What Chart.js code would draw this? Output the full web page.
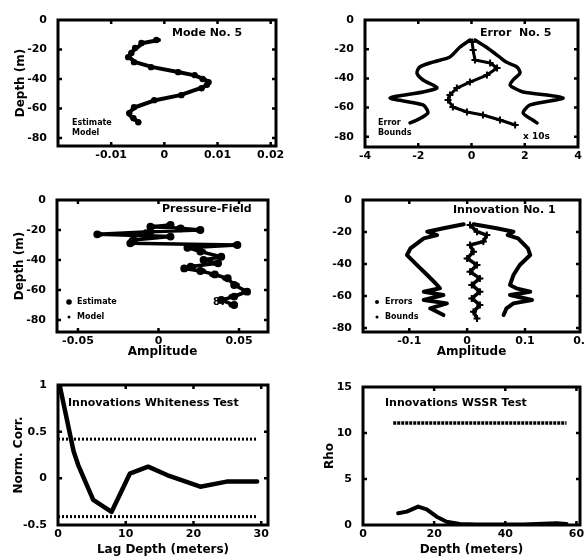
<!DOCTYPE html>
<html>
<head>
<meta charset="utf-8">
<script src="https://cdn.jsdelivr.net/npm/chart.js@4.4.1/dist/chart.umd.min.js"></script>
<style>
    html, body { margin: 0; padding: 0; background: #fff; width: 585px; height: 558px; overflow: hidden; position: relative; }
    canvas { position: absolute; }
</style>
</head>
<body>
<canvas id="modeChart"></canvas>
<canvas id="errorChart"></canvas>
<canvas id="pressureChart"></canvas>
<canvas id="innovChart"></canvas>
<canvas id="whiteChart"></canvas>
<canvas id="wssrChart"></canvas>
<script>
// Data - START
// Mode No. 5 (x = amplitude, y = depth m)
const modeDepth = [-13.6, -15.6, -19, -22.4, -25.2, -28.6, -32, -35.4, -37.4, -40, -42.2, -44, -46.3, -51, -54.4, -59.2, -63.3, -66.7, -69.4];
const modeEstimate = [-0.0015, -0.0043, -0.0055, -0.0062, -0.0068, -0.0057, -0.0025, 0.0026, 0.0057, 0.0072, 0.0083, 0.0080, 0.0070, 0.0032, -0.0019, -0.0057, -0.0066, -0.0058, -0.0049];
const modeModel = [-0.0010, -0.0040, -0.0052, -0.0064, -0.0066, -0.0055, -0.0022, 0.0028, 0.0055, 0.0074, 0.0085, 0.0082, 0.0068, 0.0030, -0.0017, -0.0055, -0.0068, -0.0060, -0.0047];
const modeXTicks = [-0.01, 0, 0.01, 0.02];

// Error No. 5
const errBoundDepth = [-13.7, -18.5, -25.3, -28.8, -32.2, -36.3, -41.1, -44.5, -46.6, -49.3, -53.4, -58.2, -63.7, -68.5, -70.5];
const errBoundLow = [-0.06, -0.43, -0.81, -1.45, -1.94, -2.05, -1.82, -1.45, -1.3, -1.82, -3.06, -1.82, -1.64, -2.05, -2.31];
const errBoundHigh = [0.13, 0.55, 1.05, 1.3, 1.71, 1.82, 1.56, 1.45, 1.6, 1.94, 3.44, 2.2, 1.94, 2.3, 2.46];
const errDepth = [-15, -20.5, -27.4, -29.5, -32.9, -37.7, -42.5, -46.6, -51.4, -54.8, -59.6, -63, -65.1, -68.5, -71.9];
const errValue = [0.02, 0.06, 0.13, 0.7, 0.96, 0.58, -0.06, -0.55, -0.81, -0.88, -0.7, -0.17, 0.43, 1.07, 1.64];
const errXTicks = [-4, -2, 0, 2, 4];

// Pressure-Field
const presDepth = [-16.7, -17.8, -18.9, -20, -21.1, -22.9, -23.8, -24.4, -26.7, -28.9, -30, -31.8, -34.4, -37.8, -40, -42.2, -44.4, -45.6, -47.3, -49.6, -52.2, -56.7, -61.1, -64.4, -66.7, -70];
const presEstimate = [0.0075, -0.005, 0.0138, 0.026, -0.005, -0.038, -0.007, 0.0075, -0.0154, -0.0175, 0.049, 0.018, 0.026, 0.039, 0.028, 0.037, 0.02, 0.016, 0.026, 0.035, 0.043, 0.047, 0.055, 0.047, 0.039, 0.047];
const presModel = [0.006, -0.003, 0.012, 0.024, -0.008, -0.036, -0.009, 0.006, -0.017, -0.016, 0.047, 0.02, 0.028, 0.037, 0.03, 0.035, 0.022, 0.018, 0.028, 0.033, 0.041, 0.049, 0.053, 0.045, 0.041, 0.045];
const presXTicks = [-0.05, 0, 0.05];

// Innovation No. 1
const innovBoundDepth = [-15.2, -17.7, -19.8, -21.9, -24, -30.2, -34.4, -40.6, -46.9, -53.1, -55.2, -57.3, -59.4, -62.5, -64.6, -67.7, -71.9];
const innovBoundLow = [-0.006, -0.041, -0.069, -0.052, -0.075, -0.098, -0.104, -0.087, -0.069, -0.052, -0.047, -0.075, -0.041, -0.075, -0.035, -0.064, -0.041];
const innovBoundHigh = [0.011, 0.051, 0.08, 0.07, 0.088, 0.105, 0.109, 0.091, 0.08, 0.074, 0.085, 0.109, 0.074, 0.112, 0.08, 0.068, 0.063];
const innovErrDepth = [-15.6, -19.8, -21.9, -26, -28.1, -32.3, -36.5, -40.6, -44.8, -49, -53.1, -57.3, -61.5, -65.6, -69.8, -74];
const innovErr = [0.005, 0.017, 0.034, 0.028, 0.005, 0.011, 0, 0.017, 0.005, 0.022, 0.008, 0.022, 0.008, 0.022, 0.011, 0.017];
const innovXTicks = [-0.1, 0, 0.1, 0.2];

const depthTicks = [0, -20, -40, -60, -80];

// Innovations Whiteness Test
const lagDepth = [0.3, 2.3, 3, 5.2, 7.9, 10.6, 13.3, 16.1, 21, 24.9, 29.4];
const normCorr = [0.98, 0.29, 0.14, -0.23, -0.36, 0.05, 0.125, 0.035, -0.09, -0.035, -0.035];
const corrBoundLag = [0, 29.4];
const corrUpper = [0.42, 0.42];
const corrLower = [-0.41, -0.41];
const lagTicks = [0, 10, 20, 30];
const corrTicks = [-0.5, 0, 0.5, 1];

// Innovations WSSR Test
const wssrDepth = [9.9, 12.3, 15.5, 17.9, 20.7, 23.5, 27.2, 31.9, 45, 54.4, 57.2];
const wssrRho = [1.27, 1.45, 2.0, 1.7, 0.9, 0.36, 0.1, 0.05, 0.05, 0.2, 0.1];
const threshDepth = [8.5, 57.2];
const threshRho = [11.1, 11.1];
const wssrXTicks = [0, 20, 40, 60];
const rhoTicks = [0, 5, 10, 15];
// Data - END

const FONT = '"DejaVu Sans", sans-serif';
Chart.defaults.color = '#000';
Chart.defaults.font.family = FONT;

let pts = (xs, ys) => xs.map((v, i) => ({ x: v, y: ys[i] }));

// frame, little inward ticks and the texts inside the plots
let framePlugin = {
    id: 'frameNotes',
    afterDatasetsDraw(chart, args, opts) {
        let ctx = chart.ctx;
        let a = chart.chartArea;
        ctx.save();
        ctx.strokeStyle = '#000';
        ctx.lineWidth = 3;
        ctx.strokeRect(a.left, a.top, a.right - a.left, a.bottom - a.top);
        ctx.lineWidth = 2.5;
        let xs = chart.scales.x, ys = chart.scales.y;
        xs.ticks.forEach((t) => {
            let p = xs.getPixelForValue(t.value);
            if (p < a.left + 3 || p > a.right - 3) return;
            ctx.beginPath();
            ctx.moveTo(p, a.bottom); ctx.lineTo(p, a.bottom - 4);
            ctx.moveTo(p, a.top); ctx.lineTo(p, a.top + 4);
            ctx.stroke();
        });
        ys.ticks.forEach((t) => {
            let p = ys.getPixelForValue(t.value);
            if (p < a.top + 3 || p > a.bottom - 3) return;
            ctx.beginPath();
            ctx.moveTo(a.left, p); ctx.lineTo(a.left + 4, p);
            ctx.moveTo(a.right, p); ctx.lineTo(a.right - 4, p);
            ctx.stroke();
        });
        ctx.fillStyle = '#000';
        ctx.textBaseline = 'middle';
        ctx.textAlign = 'left';
        (opts.notes || []).forEach((n) => {
            ctx.font = 'bold ' + (n.size || 11) + 'px ' + FONT;
            ctx.fillText(n.text, a.left + n.dx, a.top + n.dy);
            if (n.dot) {
                ctx.beginPath();
                ctx.arc(a.left + n.dx - 8, a.top + n.dy, n.dot, 0, Math.PI * 2);
                ctx.fill();
            }
        });
        ctx.restore();
    }
};

let tickFont = { family: FONT, size: 11, weight: 'bold' };
let titleFont = { family: FONT, size: 12, weight: 'bold' };

// box: chart area on the page + room for axes
let makeChart = function (id, box, datasets, xCfg, yCfg, notes) {
    let cv = document.getElementById(id);
    let w = box.yw + (box.r - box.l) + box.pr;
    let h = box.pt + (box.b - box.t) + box.xh;
    cv.width = w;
    cv.height = h;
    cv.style.left = (box.l - box.yw) + 'px';
    cv.style.top = (box.t - box.pt) + 'px';
    cv.style.width = w + 'px';
    cv.style.height = h + 'px';
    let config = {
        type: 'scatter',
        data: { datasets: datasets },
        options: {
            responsive: false,
            animation: false,
            layout: { padding: { top: box.pt, right: box.pr, left: 0, bottom: 0 } },
            plugins: { legend: { display: false }, tooltip: { enabled: false }, frameNotes: { notes: notes } },
            scales: {
                x: {
                    type: 'linear', min: xCfg.min, max: xCfg.max,
                    afterFit: (s) => { s.height = box.xh; },
                    afterBuildTicks: (s) => { s.ticks = xCfg.ticks.map((v) => ({ value: v })); },
                    grid: { display: false, drawTicks: false },
                    border: { display: false },
                    ticks: { padding: 3, font: tickFont, autoSkip: false, maxRotation: 0, callback: (v) => String(v) },
                    title: { display: !!xCfg.title, text: xCfg.title || '', font: titleFont, padding: { top: 0, bottom: xCfg.tpad || 0 } }
                },
                y: {
                    type: 'linear', min: yCfg.min, max: yCfg.max,
                    afterFit: (s) => { s.width = box.yw; },
                    afterBuildTicks: (s) => { s.ticks = yCfg.ticks.map((v) => ({ value: v })); },
                    grid: { display: false, drawTicks: false },
                    border: { display: false },
                    ticks: { padding: 11, font: tickFont, autoSkip: false, callback: (v) => String(v) },
                    title: { display: !!yCfg.title, text: yCfg.title || '', font: titleFont, padding: { top: yCfg.tpad || 0, bottom: 0 } }
                }
            }
        },
        plugins: [framePlugin]
    };
    return new Chart(cv, config);
};

let lineDs = (data, width, extra) => Object.assign({
    data: data, showLine: true, borderColor: '#000', backgroundColor: '#000',
    borderWidth: width, pointRadius: 0, tension: 0, borderJoinStyle: 'round', borderCapStyle: 'round'
}, extra || {});

//chart.js - START
makeChart('modeChart', { l: 58, r: 276, t: 20, b: 146, yw: 58, pt: 20, pr: 18, xh: 40 }, [
    lineDs(pts(modeModel, modeDepth), 4),
    lineDs(pts(modeEstimate, modeDepth), 0, { showLine: false, pointRadius: 3.2 })
], { min: -0.02, max: 0.021, ticks: modeXTicks },
   { min: -85.5, max: 0, ticks: depthTicks, title: 'Depth (m)', tpad: 14 },
   [
       { text: 'Mode No. 5', dx: 114, dy: 13, size: 11 },
       { text: 'Estimate', dx: 14, dy: 103, size: 8 },
       { text: 'Model', dx: 14, dy: 113, size: 8 }
   ]);

makeChart('errorChart', { l: 365, r: 578, t: 20, b: 147, yw: 58, pt: 20, pr: 10, xh: 40 }, [
    lineDs(pts(errBoundLow, errBoundDepth), 3.5, { tension: 0.25 }),
    lineDs(pts(errBoundHigh, errBoundDepth), 3.5, { tension: 0.25 }),
    lineDs(pts(errValue, errDepth), 3, { pointStyle: 'cross', pointRadius: 3.5, pointBorderWidth: 2 })
], { min: -4, max: 4, ticks: errXTicks },
   { min: -87, max: 0, ticks: depthTicks },
   [
       { text: 'Error  No. 5', dx: 115, dy: 13, size: 11 },
       { text: 'Error', dx: 13, dy: 103, size: 8 },
       { text: 'Bounds', dx: 13, dy: 113, size: 8 },
       { text: 'x 10s', dx: 158, dy: 117, size: 9 }
   ]);

makeChart('pressureChart', { l: 57, r: 268, t: 200, b: 332, yw: 57, pt: 20, pr: 18, xh: 40 }, [
    lineDs(pts(presModel, presDepth), 2, { pointRadius: 1.5 }),
    lineDs(pts(presEstimate, presDepth), 3.5, { pointRadius: 2.2 })
], { min: -0.063, max: 0.068, ticks: presXTicks, title: 'Amplitude', tpad: 13 },
   { min: -88, max: 0, ticks: depthTicks, title: 'Depth (m)', tpad: 13 },
   [
       { text: 'Pressure-Field', dx: 105, dy: 9, size: 11 },
       { text: 'Estimate', dx: 20, dy: 102, size: 8, dot: 2.8 },
       { text: 'Model', dx: 20, dy: 117, size: 8, dot: 1.5 },
       { text: '87', dx: 156, dy: 102, size: 10 }
   ]);

makeChart('innovChart', { l: 363, r: 580, t: 200, b: 332, yw: 58, pt: 20, pr: 20, xh: 40 }, [
    lineDs(pts(innovBoundLow, innovBoundDepth), 4),
    lineDs(pts(innovBoundHigh, innovBoundDepth), 4),
    lineDs(pts(innovErr, innovErrDepth), 3.5, { pointStyle: 'cross', pointRadius: 3.5, pointBorderWidth: 2 })
], { min: -0.18, max: 0.195, ticks: innovXTicks, title: 'Amplitude', tpad: 13 },
   { min: -82.5, max: 0, ticks: depthTicks },
   [
       { text: 'Innovation No. 1', dx: 90, dy: 10, size: 11 },
       { text: 'Errors', dx: 22, dy: 102, size: 8, dot: 2 },
       { text: 'Bounds', dx: 22, dy: 117, size: 8, dot: 1.5 }
   ]);

makeChart('whiteChart', { l: 58, r: 268, t: 385, b: 525, yw: 58, pt: 20, pr: 18, xh: 33 }, [
    lineDs(pts(corrBoundLag, corrUpper), 3, { borderDash: [2, 2], borderCapStyle: 'butt' }),
    lineDs(pts(corrBoundLag, corrLower), 3, { borderDash: [2, 2], borderCapStyle: 'butt' }),
    lineDs(pts(lagDepth, normCorr), 4.5)
], { min: 0, max: 31, ticks: lagTicks, title: 'Lag Depth (meters)', tpad: 1 },
   { min: -0.5, max: 1, ticks: corrTicks, title: 'Norm. Corr.', tpad: 12 },
   [
       { text: 'Innovations Whiteness Test', dx: 10, dy: 18, size: 11 }
   ]);

makeChart('wssrChart', { l: 363, r: 580, t: 387, b: 525, yw: 58, pt: 20, pr: 20, xh: 33 }, [
    lineDs(pts(threshDepth, threshRho), 3.5, { borderDash: [3, 1], borderCapStyle: 'butt' }),
    lineDs(pts(wssrDepth, wssrRho), 4)
], { min: 0, max: 61, ticks: wssrXTicks, title: 'Depth (meters)', tpad: 1 },
   { min: 0, max: 15, ticks: rhoTicks, title: 'Rho', tpad: 18 },
   [
       { text: 'Innovations WSSR Test', dx: 22, dy: 16, size: 11 }
   ]);
//chart.js - END
</script>
</body>
</html>
